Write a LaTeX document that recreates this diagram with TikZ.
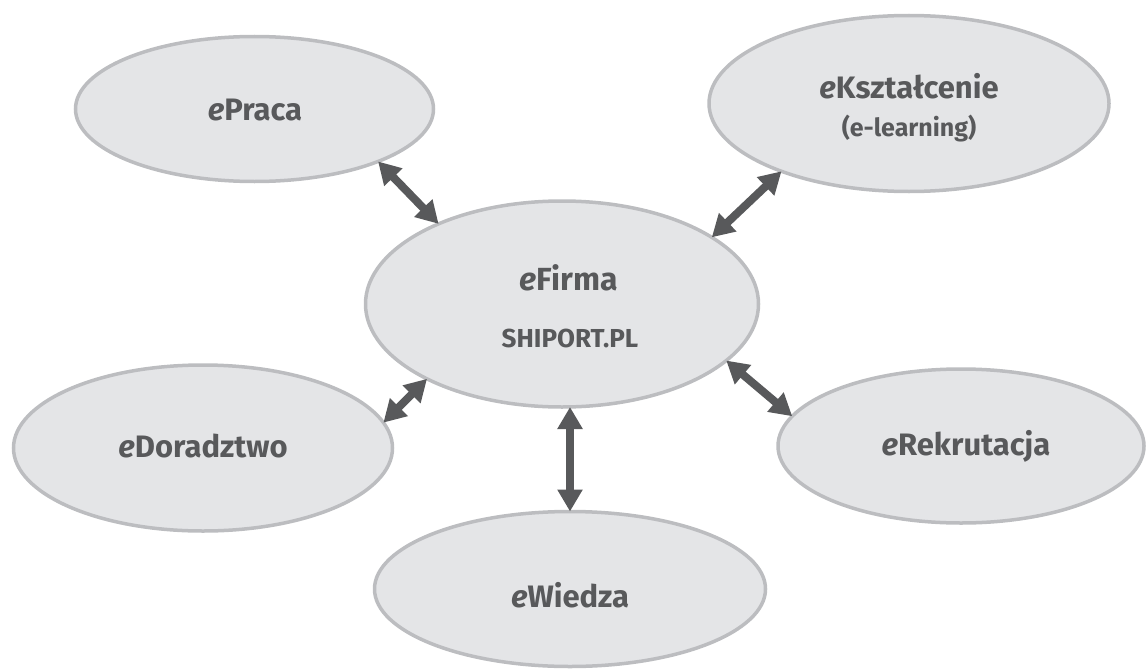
\documentclass[tikz,border=0pt]{standalone}
\usepackage{fontspec}
\setmainfont{Fira Sans}
\usetikzlibrary{arrows.meta,shapes.geometric}
\definecolor{efill}{HTML}{E4E5E7}
\definecolor{eline}{HTML}{BCBDC0}
\definecolor{edark}{HTML}{58595B}
\tikzset{
  bubble/.style={ellipse, draw=eline, fill=efill, line width=3.5pt, inner sep=0pt, outer sep=0pt},
  link/.style={draw=edark, line width=8pt,
    {Triangle[width=24pt,length=22pt]}-{Triangle[width=24pt,length=22pt]}},
  lbl/.style={text=edark, font=\bfseries\fontsize{31}{33}\selectfont, anchor=center, inner sep=0pt},
  sub/.style={text=edark, font=\bfseries\fontsize{25}{27}\selectfont, anchor=center, inner sep=0pt},
}
\newcommand{\ee}{\textit{e}}
\begin{document}
\begin{tikzpicture}[x=1pt,y=-1pt]
\useasboundingbox (0,0) rectangle (1147,669);
% ellipses
\node[bubble, minimum width=358pt, minimum height=145pt] (praca) at (254.5,109) {};
\node[bubble, minimum width=400pt, minimum height=176pt] (ksz) at (909,103.5) {};
\node[bubble, minimum width=393pt, minimum height=206pt] (firma) at (562,304) {};
\node[bubble, minimum width=379pt, minimum height=166pt] (dor) at (203,448) {};
\node[bubble, minimum width=366pt, minimum height=154pt] (rek) at (961,446) {};
\node[bubble, minimum width=391pt, minimum height=155pt] (wiedza) at (570,589) {};
% labels
\node[lbl] (tpraca) at (255,110) {\ee Praca};
\node[lbl] (tksz) at (909,86) {\ee Kształcenie};
\node[sub] (tksz2) at (909,129) {(e-learning)};
\node[lbl, font=\bfseries\fontsize{32}{34}\selectfont] (tfirma) at (569,278) {\ee Firma};
\node[lbl, font=\bfseries\fontsize{26}{28}\selectfont] (tship) at (570,338) {SHIPORT.PL};
\node[lbl] (tdor) at (203,446) {\ee Doradztwo};
\node[lbl] (trek) at (966,446) {\ee Rekrutacja};
\node[lbl] (twiedza) at (570,595) {\ee Wiedza};
% connectors
\draw[link] (praca.-23.8) -- (firma.147);
\draw[link] (ksz.-152.4) -- (firma.24.8);
\draw[link] (dor.8.3) -- (firma.209.7);
\draw[link] (rek.170) -- (firma.-19.7);
\draw[link] (wiedza.north) -- (wiedza.north |- firma.south);
\end{tikzpicture}
\end{document}
